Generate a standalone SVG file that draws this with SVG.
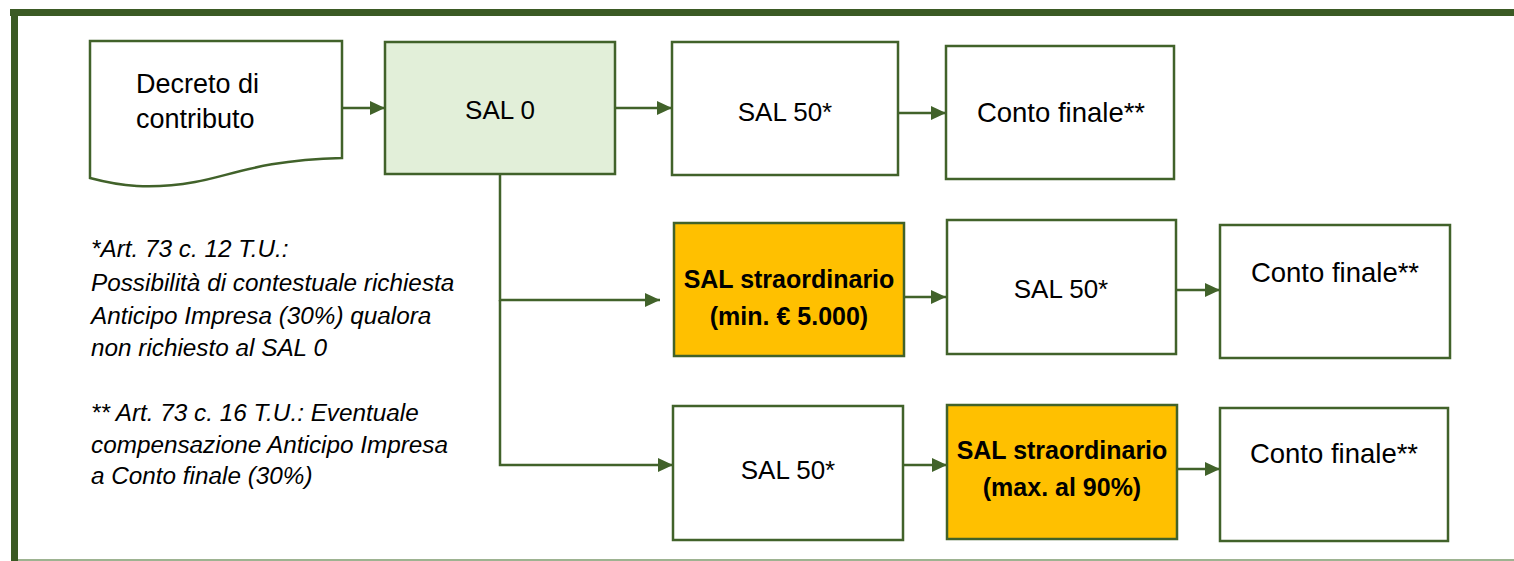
<svg xmlns="http://www.w3.org/2000/svg" width="1514" height="561" viewBox="0 0 1514 561">
<style>
.box{fill:#ffffff;stroke:#41622a;stroke-width:2.5}
.sal0{fill:#e2efd9;stroke:#41622a;stroke-width:2.5}
.orange{fill:#ffc000;stroke:#41622a;stroke-width:2.5}
.t{font-family:"Liberation Sans",Arial,sans-serif;font-size:26px;fill:#000000;text-anchor:middle}
.tc{font-family:"Liberation Sans",Arial,sans-serif;font-size:27.5px;fill:#000000;text-anchor:middle}
.tb{font-family:"Liberation Sans",Arial,sans-serif;font-size:25px;font-weight:bold;fill:#000000;text-anchor:middle}
.note{font-family:"Liberation Sans",Arial,sans-serif;font-size:24.3px;font-style:italic;fill:#000000}
.conn{fill:none;stroke:#41622a;stroke-width:2.5}
</style>
<defs>
<marker id="ah" markerUnits="userSpaceOnUse" markerWidth="16" markerHeight="14" refX="15" refY="7" orient="auto">
<path d="M0,0 L15,7 L0,14 Z" fill="#41622a"/>
</marker>
</defs>
<rect width="1514" height="561" fill="#ffffff"/>
<g id="frame">
<line x1="10" y1="12.5" x2="1514" y2="12.5" stroke="#3b5a24" stroke-width="7"/>
<line x1="14.5" y1="9" x2="14.5" y2="561" stroke="#3b5a24" stroke-width="7"/>
<line x1="18" y1="560" x2="1514" y2="560" stroke="#7d9a6c" stroke-width="1.5"/>
</g>
<g id="connectors">
<line class="conn" x1="342" y1="108" x2="385" y2="108" marker-end="url(#ah)"/>
<line class="conn" x1="616" y1="108" x2="672" y2="108" marker-end="url(#ah)"/>
<line class="conn" x1="899" y1="113" x2="946" y2="113" marker-end="url(#ah)"/>
<polyline class="conn" points="500,175 500,300 660,300" marker-end="url(#ah)"/>
<polyline class="conn" points="500,300 500,465 673,465" marker-end="url(#ah)"/>
<line class="conn" x1="905" y1="297" x2="946" y2="297" marker-end="url(#ah)"/>
<line class="conn" x1="1177" y1="290" x2="1220" y2="290" marker-end="url(#ah)"/>
<line class="conn" x1="904" y1="465" x2="947" y2="465" marker-end="url(#ah)"/>
<line class="conn" x1="1178" y1="469" x2="1220" y2="469" marker-end="url(#ah)"/>
</g>
<g id="decreto">
<path class="box" d="M90,41 H342 V158 C260,160 230,176 195,182 C150,190 120,186 90,178 Z"/>
<text class="t" x="136" y="93" style="text-anchor:start;font-size:27px">Decreto di</text>
<text class="t" x="136" y="128" style="text-anchor:start;font-size:27px">contributo</text>
</g>
<g id="sal0">
<rect class="sal0" x="385" y="42" width="230" height="132"/>
<text class="t" x="500" y="119">SAL 0</text>
</g>
<g id="sal50-top">
<rect class="box" x="672" y="42" width="226" height="133"/>
<text class="t" x="785" y="121">SAL 50*</text>
</g>
<g id="conto-top">
<rect class="box" x="946" y="46" width="228" height="133"/>
<text class="tc" x="1061" y="122">Conto finale**</text>
</g>
<g id="straord-min">
<rect class="orange" x="674" y="223" width="230" height="133"/>
<text class="tb" x="789" y="288">SAL straordinario</text>
<text class="tb" x="789" y="325">(min. € 5.000)</text>
</g>
<g id="sal50-mid">
<rect class="box" x="947" y="220" width="229" height="134"/>
<text class="t" x="1061" y="298">SAL 50*</text>
</g>
<g id="conto-mid">
<rect class="box" x="1220" y="225" width="230" height="133"/>
<text class="tc" x="1335" y="282">Conto finale**</text>
</g>
<g id="sal50-bottom">
<rect class="box" x="673" y="406" width="230" height="134"/>
<text class="t" x="788" y="479">SAL 50*</text>
</g>
<g id="straord-max">
<rect class="orange" x="947" y="405" width="230" height="134"/>
<text class="tb" x="1062" y="459">SAL straordinario</text>
<text class="tb" x="1062" y="496">(max. al 90%)</text>
</g>
<g id="conto-bottom">
<rect class="box" x="1220" y="408" width="228" height="133"/>
<text class="tc" x="1334" y="463">Conto finale**</text>
</g>
<g id="notes">
<text class="note" x="91" y="257">*Art. 73 c. 12 T.U.:</text>
<text class="note" x="91" y="291">Possibilità di contestuale richiesta</text>
<text class="note" x="91" y="324">Anticipo Impresa (30%) qualora</text>
<text class="note" x="91" y="356">non richiesto al SAL 0</text>
<text class="note" x="91" y="421">** Art. 73 c. 16 T.U.: Eventuale</text>
<text class="note" x="91" y="453">compensazione Anticipo Impresa</text>
<text class="note" x="91" y="484">a Conto finale (30%)</text>
</g>
</svg>
